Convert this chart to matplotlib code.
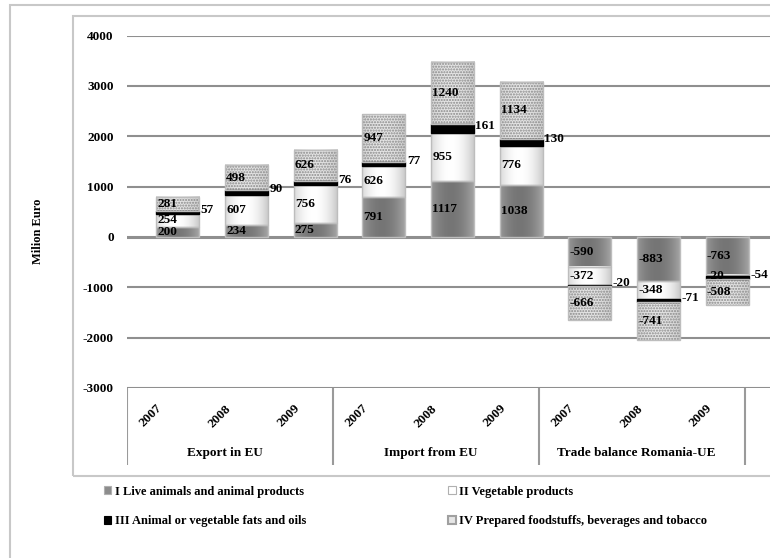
import matplotlib
matplotlib.use('Agg')
import matplotlib.pyplot as plt
import numpy as np
from matplotlib.patches import Rectangle, Patch

plt.rcParams['font.family'] = ['Liberation Serif', 'DejaVu Serif']
plt.rcParams['font.weight'] = 'bold'
plt.rcParams['hatch.linewidth'] = 1.0

# ---------------- data ----------------
groups = ['Export in EU', 'Import from EU', 'Trade balance Romania-UE']
years = ['2007', '2008', '2009']
series_names = ['I Live animals and animal products',
                'II Vegetable products',
                'III Animal or vegetable fats and oils',
                'IV Prepared foodstuffs, beverages and tobacco']
s1 = [200, 234, 275, 791, 1117, 1038, -590, -883, -763]
s2 = [254, 607, 756, 626, 955, 776, -372, -348, -20]
s3 = [57, 90, 76, 77, 161, 130, -20, -71, -54]
s4 = [281, 498, 626, 947, 1240, 1134, -666, -741, -508]
yticks = [-3000, -2000, -1000, 0, 1000, 2000, 3000, 4000]

# ---------------- layout helpers ----------------
W, H = 770, 558
fig = plt.figure(figsize=(W / 100, H / 100), dpi=100)


def fx(px):
    return px / W


def fy(py):
    return 1 - py / H


step = (745 - 127) / 9.0
x_left, x_right_px = 127, 800
ax = fig.add_axes([fx(x_left), fy(388), fx(x_right_px) - fx(x_left), fy(35.5) - fy(388)])
ax.set_xlim(-0.5, -0.5 + (x_right_px - x_left) / step)
ax.set_ylim(-3000, 4000)

for t in yticks:
    ax.axhline(t, color='#8f8f8f', lw=2.2 if t == 0 else 1.5, zorder=1)

n = len(s1)
xpos = np.arange(n) + 0.24
bw = 0.63

series = [s1, s2, s3, s4]
edge_light = '#bdbdbd'


def grad(center, edge, power=2.0, shift=0.45):
    u = np.linspace(0, 1, 64)
    d = np.abs(u - shift) / max(shift, 1 - shift)
    v = center + (edge - center) * d ** power
    return np.dstack([v, v, v])[0][None, :, :]


gradients = [grad(0.46, 0.66), grad(1.0, 0.78), None, grad(0.90, 0.80)]
solid = [None, None, '#000000', None]

bottom = np.zeros(n)
containers = []
for i, s in enumerate(series):
    vals = np.array(s, dtype=float)
    c = ax.bar(xpos, vals, bw, bottom=bottom,
               facecolor=solid[i] if solid[i] else 'none',
               edgecolor=edge_light if i != 2 else '#000000', lw=1.0, zorder=4)
    containers.append((c, bottom.copy(), vals))
    for rect in c:
        x0, w = rect.get_x(), rect.get_width()
        y0, h = rect.get_y(), rect.get_height()
        if gradients[i] is not None:
            ax.imshow(gradients[i], extent=(x0, x0 + w, y0, y0 + h), aspect='auto',
                      interpolation='bilinear', zorder=2, vmin=0, vmax=1)
    if i == 3:
        ax.bar(xpos, vals, bw, bottom=bottom, facecolor='none', edgecolor='#8a8a8a',
               hatch='......', lw=0, zorder=3)
    bottom = bottom + vals

# labels
for i, (c, bot, vals) in enumerate(containers):
    for k, rect in enumerate(c):
        x0, w = rect.get_x(), rect.get_width()
        yc = bot[k] + vals[k] / 2.0
        if i == 2:
            ax.text(x0 + w + 0.02, yc + 60, f'{int(vals[k])}', ha='left', va='center',
                    fontsize=9.5, fontweight='bold', zorder=6)
        else:
            ax.text(x0 + 0.02, yc, f'{int(vals[k])}', ha='left', va='center',
                    fontsize=9.5, fontweight='bold', zorder=6)

ax.set_yticks(yticks)
ax.set_yticklabels([str(t) for t in yticks], fontsize=9.5, fontweight='bold')
ax.tick_params(axis='y', length=0, pad=9.5)
ax.set_xticks([])
for sp in ax.spines.values():
    sp.set_visible(False)

# ---------------- category axis ----------------
cax = fig.add_axes([fx(x_left), fy(466), fx(x_right_px) - fx(x_left), fy(388) - fy(466)])
cax.set_xlim(ax.get_xlim())
cax.set_ylim(466, 388)
cax.axis('off')
for xs in [-0.5, 2.5, 5.5, 8.5]:
    cax.plot([xs, xs], [388, 465], color='#9a9a9a', lw=1.5, solid_capstyle='butt')
for g in range(3):
    for j, yr in enumerate(years):
        k = g * 3 + j
        cax.text(k - 0.15, 416, yr, rotation=45, ha='center', va='center',
                 fontsize=9.5, fontweight='bold')
    cax.text(g * 3 + 1 - 0.08, 453, groups[g], ha='center', va='center',
             fontsize=9.5, fontweight='bold')

fig.text(fx(38), fy(231), 'Milion Euro', rotation=90, ha='center', va='center',
         fontsize=9, fontweight='bold')

# ---------------- borders ----------------
fig.add_artist(Rectangle((fx(10), fy(620)), fx(820) - fx(10), fy(5) - fy(620),
                         transform=fig.transFigure, fill=False, ec='#c8c8c8', lw=1.5))
fig.add_artist(Rectangle((fx(73), fy(476)), fx(820) - fx(73), fy(16) - fy(476),
                         transform=fig.transFigure, fill=False, ec='#c8c8c8', lw=1.5))

# ---------------- legend ----------------
h1 = Patch(facecolor='#8c8c8c', edgecolor='#b0b0b0', lw=0.8)
h2 = Patch(facecolor='#ffffff', edgecolor='#b0b0b0', lw=0.8)
h3 = Patch(facecolor='#000000', edgecolor='#000000', lw=0.8)
h4 = Patch(facecolor='#e6e6e6', edgecolor='#a0a0a0', lw=1.5)
common = dict(frameon=False, loc='center left', fontsize=9, handlelength=0.6,
              handleheight=0.6, handletextpad=0.3, labelspacing=1.4,
              borderaxespad=0, borderpad=0)
leg1 = fig.legend([h1, h3], [series_names[0], series_names[2]],
                  bbox_to_anchor=(fx(104), fy(506.5)), **common)
leg2 = fig.legend([h2, h4], [series_names[1], series_names[3]],
                  bbox_to_anchor=(fx(448), fy(506.5)), **common)
for leg in (leg1, leg2):
    for t in leg.get_texts():
        t.set_fontweight('bold')

fig.savefig('out.png', dpi=100)
